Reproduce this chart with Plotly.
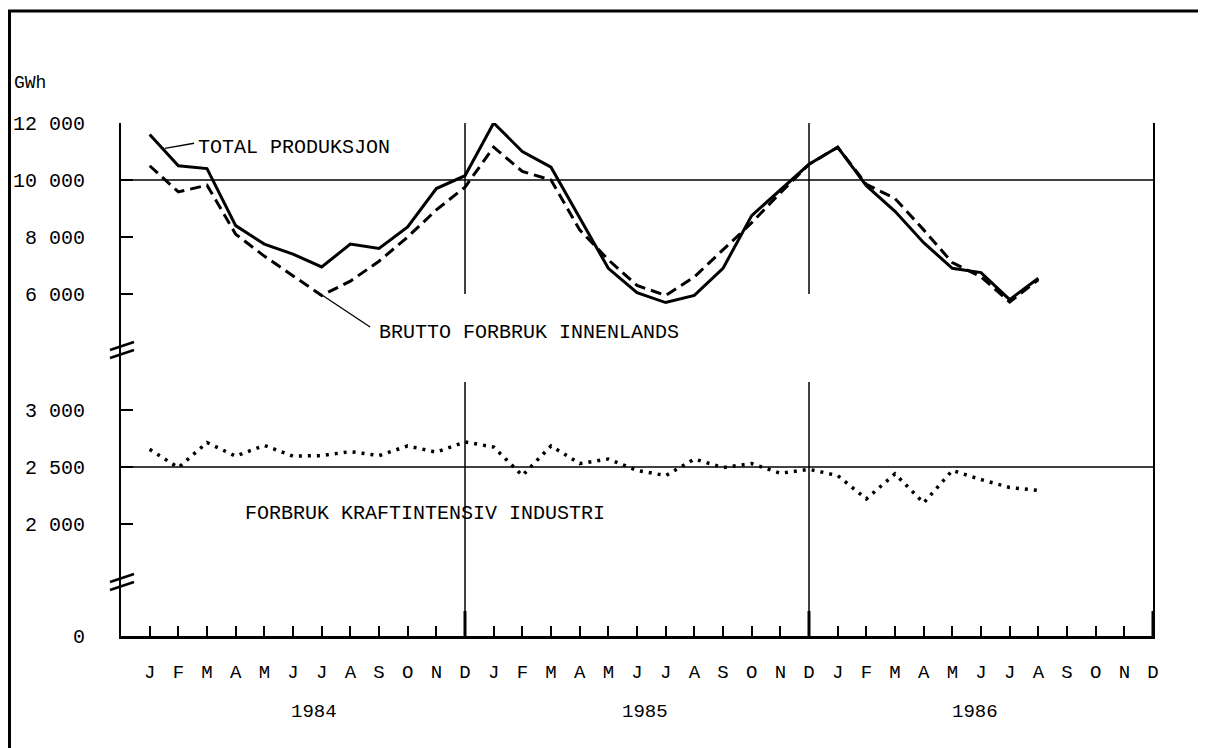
import plotly.graph_objects as go

# ---------------- data ----------------
months = list(range(1, 33))  # 1 = Jan 1984 ... 32 = Aug 1986
total_produksjon = [11600, 10500, 10400, 8400, 7750, 7400, 6950, 7750, 7600, 8350, 9700, 10150,
                    12000, 11000, 10450, 8650, 6900, 6050, 5700, 5950, 6900, 8750, 9650, 10550,
                    11150, 9800, 8900, 7800, 6900, 6750, 5800, 6550]
brutto_forbruk = [10500, 9580, 9820, 8100, 7330, 6630, 5950, 6450, 7150, 8000, 8950, 9750,
                  11150, 10300, 10000, 8250, 7200, 6300, 5950, 6600, 7550, 8500, 9550, 10550,
                  11150, 9850, 9350, 8250, 7100, 6600, 5720, 6500]
kraftintensiv = [2655, 2495, 2715, 2595, 2690, 2595, 2600, 2635, 2600, 2685, 2630, 2720,
                 2675, 2425, 2685, 2530, 2570, 2470, 2425, 2570, 2495, 2530, 2445, 2480,
                 2425, 2220, 2440, 2185, 2470, 2390, 2320, 2295]

month_labels = ["J", "F", "M", "A", "M", "J", "J", "A", "S", "O", "N", "D"]
month_ticks = list(range(1, 37))
years = ["1984", "1985", "1986"]
year_pos = [6.73, 18.28, 29.8]
year_ends = [12, 24, 36]

top_ticks = [6000, 8000, 10000, 12000]
top_ticktext = ["6 000", "8 000", "10 000", "12 000"]
mid_ticks = [2000, 2500, 3000]
mid_ticktext = ["2 000", "2 500", "3 000"]
low_ticks = [0]
low_ticktext = ["0"]
grid_top = 10000
grid_mid = 2500

# ---------------- layout geometry ----------------
OFF = 8                    # page body margin in the browser
W, H = 1206 - OFF, 748 - OFF
PLOT_L, PLOT_R, PLOT_T, PLOT_B = 121, 1153, 123, 636   # target page pixels
ML, MT = PLOT_L - OFF, PLOT_T - OFF
MR, MB = W - (PLOT_R - OFF), H - (PLOT_B - OFF)
PH = PLOT_B - PLOT_T
PW = PLOT_R - PLOT_L
BREAK1_PX = 350
BREAK2_PX = 582

def pfrac(py):             # page px (from top) -> paper fraction
    return (PLOT_B - py) / PH

def pxx(px):
    return (px - PLOT_L) / PW

top_scale = 2000 / 57      # GWh per px
mid_scale = 500 / 57
top_range = [12000 - (BREAK1_PX - 123) * top_scale, 12000]
mid_range = [2000 - (BREAK2_PX - 524) * mid_scale, 3000 + (410 - BREAK1_PX) * mid_scale]
low_range = [0, (PLOT_B - BREAK2_PX) * mid_scale]

FONT = "Liberation Mono"
black = "black"

fig = go.Figure()
fig.add_trace(go.Scatter(x=months, y=total_produksjon, mode="lines",
                         line=dict(color=black, width=3), yaxis="y"))
fig.add_trace(go.Scatter(x=months, y=brutto_forbruk, mode="lines",
                         line=dict(color=black, width=3, dash="11px,6px"), yaxis="y"))
fig.add_trace(go.Scatter(x=months, y=kraftintensiv, mode="lines",
                         line=dict(color=black, width=3.5, dash="3px,6px"), yaxis="y2"))
fig.add_trace(go.Scatter(x=[None], y=[None], mode="lines", yaxis="y3", hoverinfo="skip"))

common_y = dict(showline=True, linecolor=black, linewidth=2, mirror=True,
                ticks="inside", ticklen=12, tickwidth=2, tickcolor=black,
                showgrid=False, zeroline=False, anchor="x", automargin=False,
                tickfont=dict(family=FONT, size=20, color=black),
                ticklabelstandoff=30)

fig.update_layout(
    width=W, height=H,
    margin=dict(l=ML, r=MR, t=MT, b=MB, pad=0, autoexpand=False),
    paper_bgcolor="white", plot_bgcolor="white",
    showlegend=False,
    xaxis=dict(range=[0, 36], anchor="y3", showline=True, linecolor=black, linewidth=2.5,
               ticks="inside", ticklen=10, tickwidth=2, tickcolor=black,
               tickvals=month_ticks, ticktext=month_labels * 3, automargin=False,
               tickfont=dict(family=FONT, size=19, color=black),
               ticklabelstandoff=16, showgrid=False, zeroline=False),
    yaxis=dict(domain=[pfrac(BREAK1_PX), 1], range=top_range,
               tickvals=top_ticks, ticktext=top_ticktext, **common_y),
    yaxis2=dict(domain=[pfrac(BREAK2_PX), pfrac(BREAK1_PX)], range=mid_range,
                tickvals=mid_ticks, ticktext=mid_ticktext, **common_y),
    yaxis3=dict(domain=[0, pfrac(BREAK2_PX)], range=low_range,
                tickvals=low_ticks, ticktext=low_ticktext, **common_y),
)

shapes = []
# horizontal reference lines
shapes.append(dict(type="line", xref="x", yref="y", x0=0, x1=36, y0=grid_top, y1=grid_top,
                   line=dict(color=black, width=1.5)))
shapes.append(dict(type="line", xref="x", yref="y2", x0=0, x1=36, y0=grid_mid, y1=grid_mid,
                   line=dict(color=black, width=1.5)))
# year separators
for xe in year_ends[:2]:
    shapes.append(dict(type="line", xref="x", yref="y", x0=xe, x1=xe, y0=6000, y1=12000,
                       line=dict(color=black, width=1.5)))
    shapes.append(dict(type="line", xref="x", yref="y2", x0=xe, x1=xe,
                       y0=mid_range[0], y1=3000 + (410 - 382) * mid_scale,
                       line=dict(color=black, width=1.5)))
    shapes.append(dict(type="line", xref="x", yref="y3", x0=xe, x1=xe,
                       y0=low_range[0], y1=low_range[1],
                       line=dict(color=black, width=1.5)))
for xe in year_ends:
    shapes.append(dict(type="line", xref="x", yref="y3", x0=xe, x1=xe,
                       y0=0, y1=25 * mid_scale, line=dict(color=black, width=3)))
# axis break marks
for bpx in [BREAK1_PX, BREAK2_PX]:
    for off in [-4, 4]:
        shapes.append(dict(type="line", xref="paper", yref="paper",
                           x0=pxx(110), x1=pxx(134),
                           y0=pfrac(bpx + off + 4), y1=pfrac(bpx + off - 4),
                           line=dict(color=black, width=2.5)))
# leader lines
shapes.append(dict(type="line", xref="x", yref="y", x0=1.53, y0=11110, x1=2.55, y1=11290,
                   line=dict(color=black, width=1.3)))
shapes.append(dict(type="line", xref="x", yref="y", x0=7.01, y0=5965, x1=8.69, y1=4840,
                   line=dict(color=black, width=1.3)))
# outer frame
shapes.append(dict(type="rect", xref="paper", yref="paper",
                   x0=pxx(OFF + 1.5), x1=pxx(1240), y0=pfrac(780), y1=pfrac(11),
                   line=dict(color=black, width=3)))
fig.update_layout(shapes=shapes)

ann = []
ann.append(dict(text="GWh", xref="paper", yref="paper", x=pxx(12), y=pfrac(83),
                xanchor="left", yanchor="middle", showarrow=False,
                font=dict(family=FONT, size=18, color=black)))
ann.append(dict(text="TOTAL PRODUKSJON", xref="x", yref="y", x=2.62, y=11130,
                xanchor="left", yanchor="middle", showarrow=False,
                font=dict(family=FONT, size=20, color=black)))
ann.append(dict(text="BRUTTO FORBRUK INNENLANDS", xref="x", yref="y", x=8.93, y=4666,
                xanchor="left", yanchor="middle", showarrow=False,
                font=dict(family=FONT, size=20, color=black)))
ann.append(dict(text="FORBRUK KRAFTINTENSIV INDUSTRI", xref="x", yref="y2", x=4.26, y=2088,
                xanchor="left", yanchor="middle", showarrow=False,
                font=dict(family=FONT, size=20, color=black)))
for yr, xp in zip(years, year_pos):
    ann.append(dict(text=yr, xref="x", yref="paper", x=xp, y=pfrac(712),
                    xanchor="center", yanchor="middle", showarrow=False,
                    font=dict(family=FONT, size=19, color=black)))
fig.update_layout(annotations=ann)

fig.write_html("out.html")
